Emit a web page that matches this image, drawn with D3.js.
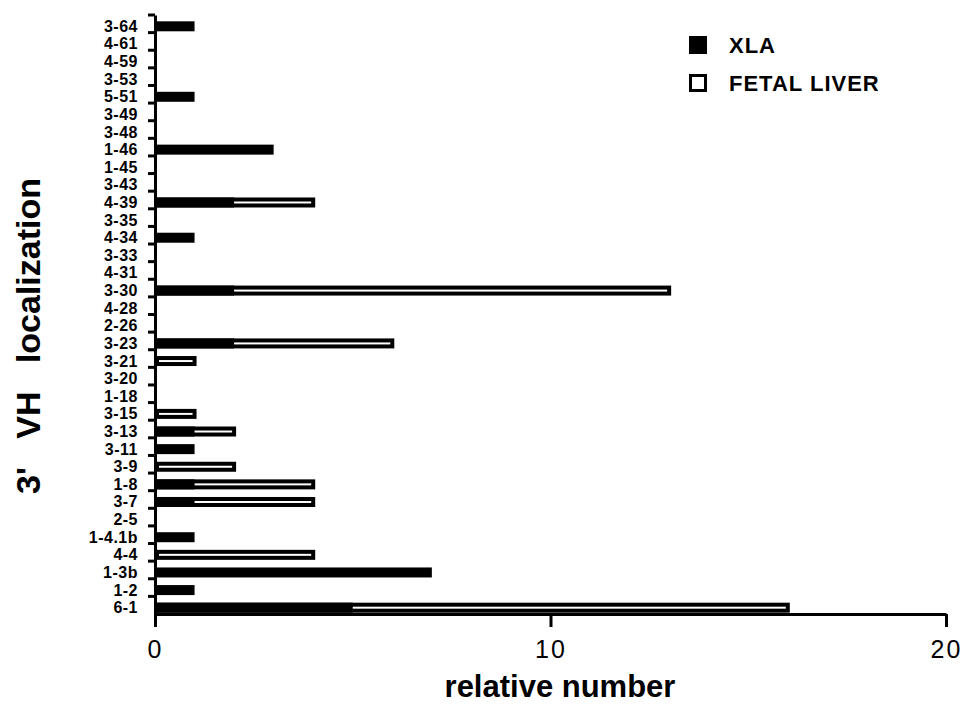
<!DOCTYPE html>
<meta charset="utf-8">
<script src="https://d3js.org/d3.v7.min.js"></script>
<style>
  body { margin: 0; background: #fff; }
  text { font-family: "Liberation Sans", Arial, sans-serif; fill: #000; }
</style>
<div id="chart"></div>
<script>
    // categories listed from top to bottom as in the figure
    const categories = ["3-64", "4-61", "4-59", "3-53", "5-51", "3-49", "3-48", "1-46", "1-45", "3-43",
        "4-39", "3-35", "4-34", "3-33", "4-31", "3-30", "4-28", "2-26", "3-23", "3-21",
        "3-20", "1-18", "3-15", "3-13", "3-11", "3-9", "1-8", "3-7", "2-5", "1-4.1b",
        "4-4", "1-3b", "1-2", "6-1"];
    const xlaValues = [1, 0, 0, 0, 1, 0, 0, 3, 0, 0,
        2, 0, 1, 0, 0, 2, 0, 0, 2, 0,
        0, 0, 0, 1, 1, 0, 1, 1, 0, 1,
        0, 7, 1, 5];
    const fetalValues = [0, 0, 0, 0, 0, 0, 0, 0, 0, 0,
        4, 0, 0, 0, 0, 13, 0, 0, 6, 1,
        0, 0, 1, 2, 0, 2, 4, 4, 0, 0,
        4, 0, 0, 16];
    const xTicks = [0, 10, 20];
    const seriesNames = ["XLA", "FETAL LIVER"];

    const width = 965, height = 706;

    const svg = d3.select("#chart")
        .append("svg")
        .attr("width", width)
        .attr("height", height);

    const x = d3.scaleLinear().domain([0, 20]).range([155, 946]);
    const y = d3.scaleBand().domain(categories).range([15, 614]).padding(0);
    const barH = 10;
    const barOff = 2.5; // bars sit a little below band centre
    const barY = c => y(c) + y.bandwidth() / 2 + barOff - barH / 2;

    // fetal liver: open bars with thick outline
    svg.append("g")
        .selectAll("rect")
        .data(categories.map((c, i) => ({ c, v: fetalValues[i] })).filter(d => d.v > 0))
        .join("rect")
        .attr("x", x(0) + 2)
        .attr("y", d => barY(d.c) + 2)
        .attr("width", d => x(d.v) - x(0) - 2)
        .attr("height", barH - 4)
        .attr("fill", "#fff")
        .attr("stroke", "#000")
        .attr("stroke-width", 4);

    // XLA: solid bars on top
    svg.append("g")
        .selectAll("rect")
        .data(categories.map((c, i) => ({ c, v: xlaValues[i] })).filter(d => d.v > 0))
        .join("rect")
        .attr("x", x(0))
        .attr("y", d => barY(d.c))
        .attr("width", d => x(d.v) - x(0))
        .attr("height", barH)
        .attr("fill", "#000");

    // Y axis: labels only, ticks drawn at band boundaries
    const yAxis = svg.append("g")
        .attr("transform", `translate(${x(0)},0)`)
        .call(d3.axisLeft(y).tickSize(0).tickPadding(17));
    yAxis.select(".domain").attr("stroke", "#000").attr("stroke-width", 3);
    yAxis.selectAll("text")
        .attr("dy", barOff + 5.5)
        .style("font-size", "16px")
        .style("font-weight", "bold")
        .style("letter-spacing", "0.5px");

    svg.append("g")
        .selectAll("line")
        .data(categories)
        .join("line")
        .attr("x1", x(0) - 7)
        .attr("x2", x(0))
        .attr("y1", d => y(d))
        .attr("y2", d => y(d))
        .attr("stroke", "#000")
        .attr("stroke-width", 3);

    // X axis
    const xAxis = svg.append("g")
        .attr("transform", `translate(0,${y.range()[1]})`)
        .call(d3.axisBottom(x).tickValues(xTicks).tickSize(13).tickSizeOuter(0).tickPadding(13));
    xAxis.select(".domain").attr("stroke", "#000").attr("stroke-width", 3);
    xAxis.selectAll(".tick line").attr("stroke", "#000").attr("stroke-width", 3);
    xAxis.selectAll("text")
        .style("font-size", "25px")
        .style("letter-spacing", "2px");

    // axis titles
    svg.append("text")
        .attr("x", 560)
        .attr("y", 697)
        .attr("text-anchor", "middle")
        .style("font-size", "31px")
        .style("font-weight", "bold")
        .text("relative number");

    svg.append("text")
        .attr("transform", "translate(40,336) rotate(-90)")
        .attr("text-anchor", "middle")
        .style("font-size", "34px")
        .style("font-weight", "bold")
        .style("white-space", "pre")
        .text("3'   VH   localization");

    // legend
    const legend = svg.append("g").attr("transform", "translate(689,36)");
    const items = legend.selectAll("g")
        .data(seriesNames)
        .join("g")
        .attr("transform", (d, i) => `translate(0,${i * 38})`);
    items.append("rect")
        .attr("x", (d, i) => i === 0 ? 0 : 1.5)
        .attr("y", (d, i) => i === 0 ? 0 : 1.5)
        .attr("width", (d, i) => i === 0 ? 18 : 15)
        .attr("height", (d, i) => i === 0 ? 18 : 15)
        .attr("fill", (d, i) => i === 0 ? "#000" : "#fff")
        .attr("stroke", "#000")
        .attr("stroke-width", (d, i) => i === 0 ? 0 : 3);
    items.append("text")
        .attr("x", 40)
        .attr("y", 17)
        .style("font-size", "22px")
        .style("font-weight", "bold")
        .style("letter-spacing", "1px")
        .text(d => d);
</script>
